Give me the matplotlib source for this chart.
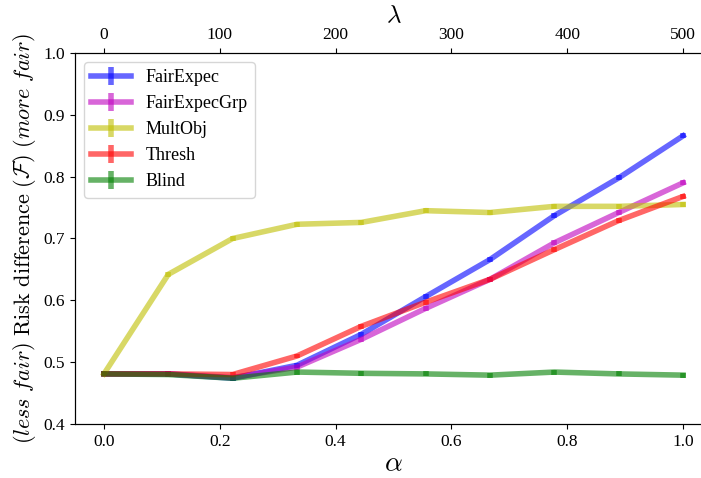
import matplotlib
matplotlib.use('Agg')
import matplotlib.pyplot as plt
import numpy as np

plt.rcParams['font.family'] = ['Liberation Serif', 'DejaVu Serif']
plt.rcParams['mathtext.fontset'] = 'cm'

# =========================
# data
# =========================
alphas = np.linspace(0, 1, 10)
lam_max = 500

fair_expec = [0.481, 0.481, 0.474, 0.495, 0.545, 0.606, 0.666, 0.737, 0.798, 0.866]
fair_expec_grp = [0.481, 0.481, 0.475, 0.492, 0.537, 0.587, 0.634, 0.693, 0.742, 0.790]
mult_obj = [0.481, 0.642, 0.700, 0.723, 0.726, 0.745, 0.742, 0.752, 0.752, 0.755]
thresh = [0.481, 0.481, 0.480, 0.510, 0.558, 0.597, 0.634, 0.682, 0.729, 0.768]
blind = [0.481, 0.480, 0.474, 0.484, 0.482, 0.481, 0.479, 0.484, 0.481, 0.479]
err = 0.004

series = [
    ('FairExpec', fair_expec, 'b'),
    ('FairExpecGrp', fair_expec_grp, 'm'),
    ('MultObj', mult_obj, 'y'),
    ('Thresh', thresh, 'r'),
    ('Blind', blind, 'g'),
]

# =========================
# plot
# =========================
fig = plt.figure(figsize=(7.01, 4.78), dpi=100)
# right side of the axes runs past the figure edge, like the original crop
ax = fig.add_axes([75 / 701, 54 / 478, 637 / 701, 371 / 478])

for name, vals, c in series:
    ax.errorbar(alphas, vals, yerr=err, color=c, alpha=0.6, linewidth=4,
                elinewidth=4, label=name)

xlo, xhi = -0.05, 1.05
ax.set_xlim(xlo, xhi)
ax.set_ylim(0.4, 1.0)
ax.set_xticks([0.0, 0.2, 0.4, 0.6, 0.8, 1.0])
ax.tick_params(labelsize=12.5)
ax.set_xlabel(r'$\alpha$', fontsize=20, labelpad=2)
ax.set_ylabel(r'$(less\ fair)\ \mathrm{Risk\ difference}\ (\mathcal{F})\ (more\ fair)$',
              fontsize=16, labelpad=4)

ax2 = ax.twiny()
ax2.set_xlim(xlo * lam_max, xhi * lam_max)
ax2.set_xticks([0, 100, 200, 300, 400, 500])
ax2.tick_params(labelsize=12.5)
ax2.set_xlabel(r'$\lambda$', fontsize=18, labelpad=4)

ax.legend(loc='upper left', fontsize=13, handlelength=2.2, borderaxespad=0.5)

fig.savefig('out.png', dpi=100)
